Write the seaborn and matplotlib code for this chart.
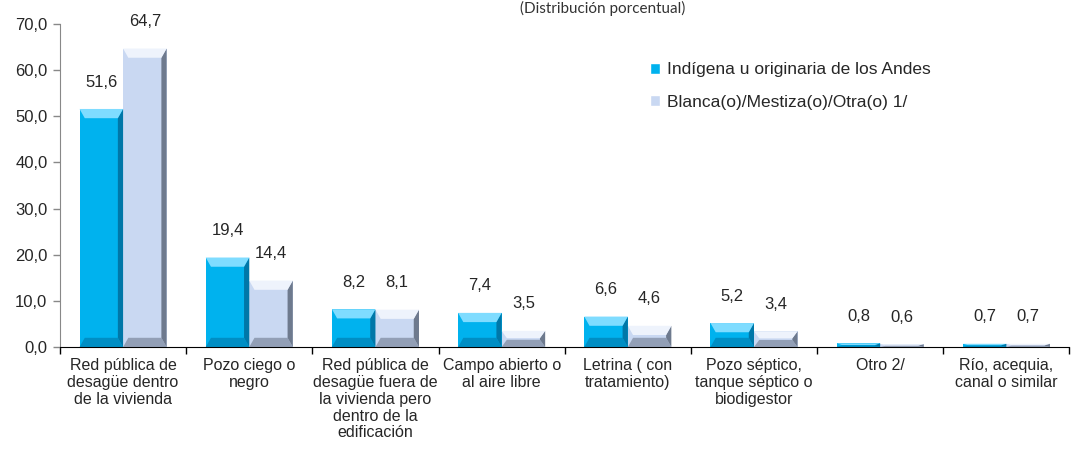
import numpy as np
import pandas as pd
import matplotlib
matplotlib.use("Agg")
import matplotlib.pyplot as plt
import seaborn as sns
from matplotlib.patches import Polygon

# data
categories = ["Red pública de\ndesagüe dentro\nde la vivienda",
              "Pozo ciego o\nnegro",
              "Red pública de\ndesagüe fuera de\nla vivienda pero\ndentro de la\nedificación",
              "Campo abierto o\nal aire libre",
              "Letrina ( con\ntratamiento)",
              "Pozo séptico,\ntanque séptico o\nbiodigestor",
              "Otro 2/",
              "Río, acequia,\ncanal o similar"]
indigena = [51.6, 19.4, 8.2, 7.4, 6.6, 5.2, 0.8, 0.7]
blanca = [64.7, 14.4, 8.1, 3.5, 4.6, 3.4, 0.6, 0.7]
series_names = ["Indígena u originaria de los Andes", "Blanca(o)/Mestiza(o)/Otra(o) 1/"]
yticks = [0, 10, 20, 30, 40, 50, 60, 70]

df = pd.DataFrame({
    "cat": categories * 2,
    "grupo": [series_names[0]] * 8 + [series_names[1]] * 8,
    "valor": indigena + blanca,
})

sns.set_style("white")
plt.rcParams['font.family'] = ['Liberation Sans Narrow', 'Liberation Sans', 'DejaVu Sans']

colors = ["#00B2EE", "#C9D8F2"]
dark = ["#0077A8", "#6E7A8E"]
light = ["#7FDCFF", "#EEF3FC"]

fig = plt.figure(figsize=(10.77, 4.63), dpi=100)
ax = fig.add_axes([0.0557, 0.2505, 0.9373, 0.6975])

sns.barplot(data=df, x="cat", y="valor", hue="grupo", palette=colors,
            width=0.69, gap=0, ax=ax, legend=True, saturation=1)

# bevel effect on each bar
for i, cont in enumerate(ax.containers):
    for p in cont.patches:
        x0, y0 = p.get_x(), p.get_y()
        w, h = p.get_width(), p.get_height()
        p.set_edgecolor("none")
        b = w * 0.12
        bh = min(h * 0.45, 2.0)
        ax.add_patch(Polygon([[x0 + w, y0], [x0 + w, y0 + h], [x0 + w - b, y0 + h - bh], [x0 + w - b, y0 + bh]],
                             closed=True, facecolor=dark[i], edgecolor="none", zorder=3))
        ax.add_patch(Polygon([[x0, y0 + h], [x0 + w, y0 + h], [x0 + w - b, y0 + h - bh], [x0 + b, y0 + h - bh]],
                             closed=True, facecolor=light[i], edgecolor="none", zorder=3))
        ax.add_patch(Polygon([[x0, y0], [x0 + w, y0], [x0 + w - b, y0 + bh], [x0 + b, y0 + bh]],
                             closed=True, facecolor=dark[i], edgecolor="none", alpha=0.6, zorder=3))
    ax.bar_label(cont, labels=[f"{v:.1f}".replace(".", ",") for v in cont.datavalues],
                 padding=14, fontsize=12)

ax.set_ylim(0, 70)
ax.set_xlim(-0.5, 7.5)
ax.set_yticks(yticks)
ax.set_yticklabels([f"{v:.1f}".replace(".", ",") for v in yticks], fontsize=12)
ax.set_xticks(range(8))
ax.set_xticklabels(categories, fontsize=11.5, linespacing=1.15)
ax.set_xticks(np.arange(-0.5, 8, 1), minor=True)
ax.tick_params(axis="x", which="major", length=0, pad=8)
ax.tick_params(axis="x", which="minor", length=5, width=1, color="black", direction="out", bottom=True)
ax.tick_params(axis="y", length=5, width=1, color="#888888", direction="out", left=True, pad=4)
ax.set_xlabel("")
ax.set_ylabel("")

for s in ["top", "right"]:
    ax.spines[s].set_visible(False)
ax.spines["left"].set_color("#888888")
ax.spines["bottom"].set_color("black")

leg = ax.legend(loc="upper left", bbox_to_anchor=(0.569, 0.93), frameon=False,
                fontsize=12.5, handlelength=0.6, handleheight=0.6, handletextpad=0.4,
                labelspacing=1.0)

fig.text(0.56, 0.998, "(Distribución porcentual)", ha="center", va="top",
         fontsize=11, color="#333333", family=['Lato', 'DejaVu Sans'])

fig.savefig("out.png", dpi=100)
